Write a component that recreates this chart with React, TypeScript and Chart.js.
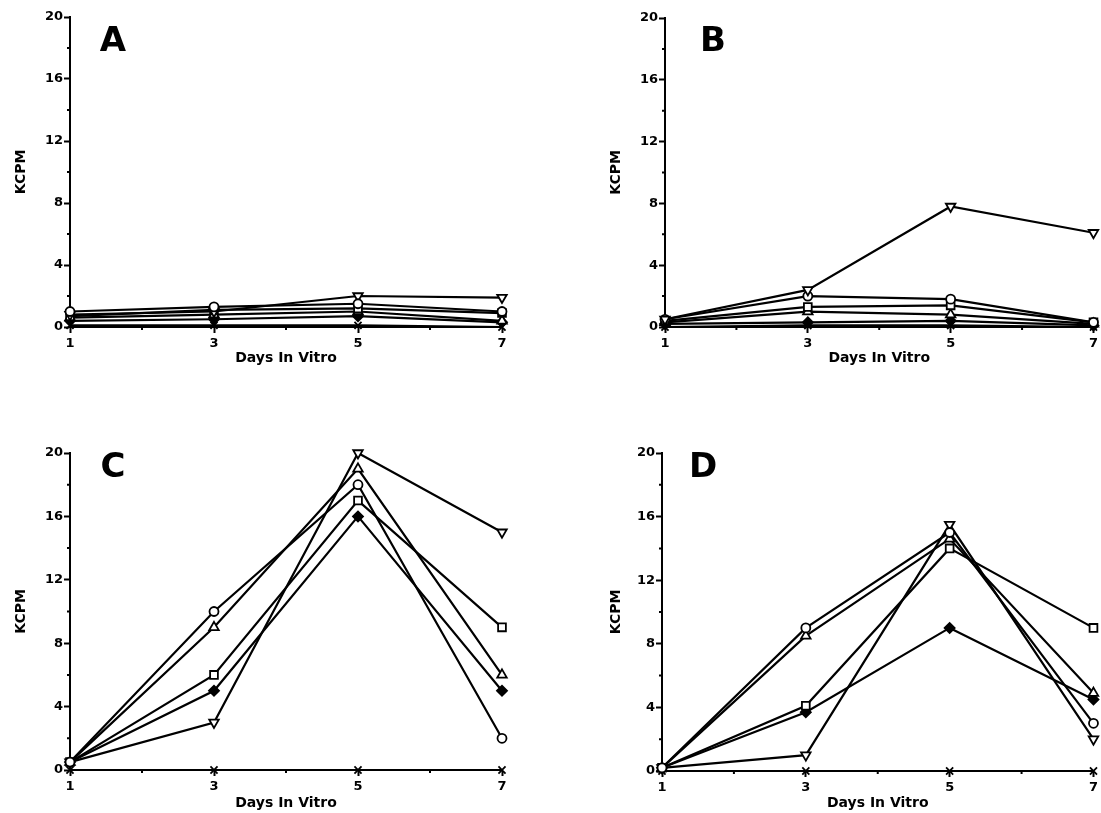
import React, { useEffect, useRef } from "react";
import { Chart, registerables } from "chart.js";
Chart.register(...registerables);

const days = [1, 3, 5, 7];
const xLabelDays = [1, 3, 5, 7];
const xMinorDays = [2, 4, 6];
const yLabelTicks = [0, 4, 8, 12, 16, 20];
const yMinorTicks = [2, 6, 10, 14, 18];
const axisTitleX = "Days In Vitro";
const axisTitleY = "KCPM";

// Panel A
const aCircle = [1.0, 1.3, 1.5, 1.0];
const aTriDown = [0.8, 1.0, 2.0, 1.9];
const aSquare = [0.7, 1.1, 1.2, 0.9];
const aTriUp = [0.6, 0.8, 1.0, 0.4];
const aDiamond = [0.4, 0.5, 0.7, 0.3];
const aCross = [0.1, 0.1, 0.1, 0.0];

// Panel B
const bTriDown = [0.5, 2.4, 7.8, 6.1];
const bCircle = [0.5, 2.0, 1.8, 0.3];
const bSquare = [0.4, 1.3, 1.4, 0.3];
const bTriUp = [0.3, 1.0, 0.8, 0.2];
const bDiamond = [0.2, 0.3, 0.4, 0.1];
const bCross = [0.0, 0.1, 0.1, 0.0];

// Panel C
const cCircle = [0.5, 10, 18, 2];
const cTriUp = [0.5, 9, 19, 6];
const cSquare = [0.5, 6, 17, 9];
const cDiamond = [0.5, 5, 16, 5];
const cTriDown = [0.5, 3, 20, 15];
const cCross = [0, 0, 0, 0];

// Panel D
const dCircle = [0.2, 9, 15, 3];
const dTriUp = [0.2, 8.5, 14.6, 4.9];
const dSquare = [0.2, 4.1, 14, 9];
const dDiamond = [0.2, 3.7, 9, 4.5];
const dTriDown = [0.2, 1.0, 15.5, 2];
const dCross = [0, 0, 0, 0];

type Marker = "circle" | "triUp" | "square" | "diamond" | "triDown" | "cross";

const markerStyle: Record<Marker, any> = {
  circle: { pointStyle: "circle", pointRadius: 4.5, pointBackgroundColor: "#fff", pointRotation: 0 },
  triUp: { pointStyle: "triangle", pointRadius: 5.5, pointBackgroundColor: "#fff", pointRotation: 0 },
  square: { pointStyle: "rect", pointRadius: 5.5, pointBackgroundColor: "#fff", pointRotation: 0 },
  diamond: { pointStyle: "rectRot", pointRadius: 5, pointBackgroundColor: "#000", pointRotation: 0 },
  triDown: { pointStyle: "triangle", pointRadius: 5.5, pointBackgroundColor: "#fff", pointRotation: 180 },
  cross: { pointStyle: "crossRot", pointRadius: 5, pointBackgroundColor: "#000", pointRotation: 0 },
};

type Panel = {
  letter: string;
  left: number;
  top: number;
  width: number;
  height: number;
  plotLeft: number;
  plotRight: number;
  plotTop: number;
  plotBottom: number;
  letterX: number;
  letterY: number;
  titlePad: number;
  series: [Marker, number[]][];
};

const panels: Panel[] = [
  {
    letter: "A", left: 0, top: 0, width: 550, height: 395,
    plotLeft: 70, plotRight: 502, plotTop: 17, plotBottom: 327,
    letterX: 113, letterY: 42, titlePad: 28,
    series: [["circle", aCircle], ["triDown", aTriDown], ["square", aSquare], ["triUp", aTriUp], ["diamond", aDiamond], ["cross", aCross]],
  },
  {
    letter: "B", left: 595, top: 0, width: 506, height: 395,
    plotLeft: 665, plotRight: 1098, plotTop: 18, plotBottom: 327,
    letterX: 713, letterY: 42, titlePad: 28,
    series: [["triDown", bTriDown], ["circle", bCircle], ["square", bSquare], ["triUp", bTriUp], ["diamond", bDiamond], ["cross", bCross]],
  },
  {
    letter: "C", left: 0, top: 400, width: 550, height: 413,
    plotLeft: 70, plotRight: 502, plotTop: 453, plotBottom: 770,
    letterX: 113, letterY: 468, titlePad: 1,
    series: [["circle", cCircle], ["triUp", cTriUp], ["square", cSquare], ["diamond", cDiamond], ["triDown", cTriDown], ["cross", cCross]],
  },
  {
    letter: "D", left: 595, top: 400, width: 506, height: 413,
    plotLeft: 662, plotRight: 1094, plotTop: 453, plotBottom: 771,
    letterX: 703, letterY: 468, titlePad: 1,
    series: [["circle", dCircle], ["triUp", dTriUp], ["square", dSquare], ["diamond", dDiamond], ["triDown", dTriDown], ["cross", dCross]],
  },
];

const FONT = "'DejaVu Sans', sans-serif";

function PanelChart({ p }: { p: Panel }) {
  const ref = useRef<HTMLCanvasElement>(null);
  useEffect(() => {
    const canvas = ref.current!;
    const letterPlugin = {
      id: "panelLetter" + p.letter,
      afterDraw(chart: any) {
        const ctx = chart.ctx;
        ctx.save();
        ctx.fillStyle = "#000";
        ctx.font = `bold 34px ${FONT}`;
        ctx.textAlign = "center";
        ctx.textBaseline = "middle";
        ctx.fillText(p.letter, p.letterX - p.left, p.letterY - p.top);
        // short minor ticks
        const xs = chart.scales.x;
        const ys = chart.scales.y;
        const area = chart.chartArea;
        ctx.strokeStyle = "#000";
        ctx.lineWidth = 2;
        ctx.beginPath();
        xMinorDays.forEach((d) => {
          const px = xs.getPixelForValue(d);
          ctx.moveTo(px, area.bottom);
          ctx.lineTo(px, area.bottom + 3);
        });
        yMinorTicks.forEach((v) => {
          const py = ys.getPixelForValue(v);
          ctx.moveTo(area.left, py);
          ctx.lineTo(area.left - 3, py);
        });
        ctx.stroke();
        ctx.restore();
      },
    };
    const chart = new Chart(canvas, {
      type: "line",
      data: {
        datasets: p.series.map(([m, vals]) => ({
          data: days.map((d, i) => ({ x: d, y: vals[i] })),
          borderColor: "#000",
          borderWidth: 2.2,
          pointBorderColor: "#000",
          pointBorderWidth: 1.8,
          clip: false as any,
          tension: 0,
          ...markerStyle[m],
        })),
      },
      options: {
        animation: false,
        responsive: false,
        events: [],
        layout: {
          padding: {
            left: 0,
            top: p.plotTop - p.top,
            right: p.left + p.width - p.plotRight,
            bottom: 0,
          },
        },
        plugins: { legend: { display: false }, tooltip: { enabled: false } },
        scales: {
          x: {
            type: "linear",
            min: 1,
            max: 7,
            afterFit: (s: any) => { s.height = p.top + p.height - p.plotBottom; },
            afterBuildTicks: (s: any) => { s.ticks = xLabelDays.map((v) => ({ value: v })); },
            ticks: {
              autoSkip: false,
              maxRotation: 0,
              padding: 3,
              color: "#000",
              font: { family: FONT, size: 13, weight: "bold" },
              callback: (v: any) => String(v),
            },
            grid: {
              drawOnChartArea: false,
              drawTicks: true,
              tickLength: 6,
              tickColor: "#000",
              tickWidth: 2,
            },
            border: { display: true, color: "#000", width: 2 },
            title: {
              display: true,
              text: axisTitleX,
              color: "#000",
              font: { family: FONT, size: 14, weight: "bold" },
              padding: { top: 0, bottom: p.titlePad },
            },
          },
          y: {
            type: "linear",
            min: 0,
            max: 20,
            afterFit: (s: any) => { s.width = p.plotLeft - p.left; },
            afterBuildTicks: (s: any) => { s.ticks = yLabelTicks.map((v) => ({ value: v })); },
            ticks: {
              autoSkip: false,
              padding: 1,
              color: "#000",
              font: { family: FONT, size: 13, weight: "bold" },
              callback: (v: any) => String(v),
            },
            grid: {
              drawOnChartArea: false,
              drawTicks: true,
              tickLength: 6,
              tickColor: "#000",
              tickWidth: 2,
            },
            border: { display: true, color: "#000", width: 2 },
            title: {
              display: true,
              text: axisTitleY,
              color: "#000",
              font: { family: FONT, size: 14, weight: "bold" },
              padding: { top: 13, bottom: 0 },
            },
          },
        },
      } as any,
      plugins: [letterPlugin],
    });
    return () => chart.destroy();
  }, []);
  return (
    <canvas
      ref={ref}
      width={p.width}
      height={p.height}
      style={{ position: "absolute", left: p.left, top: p.top, width: p.width, height: p.height }}
    />
  );
}

export default function App() {
  return (
    <div style={{ position: "fixed", left: 0, top: 0, width: 1101, height: 813, background: "#fff", overflow: "hidden" }}>
      {panels.map((p) => (
        <PanelChart key={p.letter} p={p} />
      ))}
    </div>
  );
}
